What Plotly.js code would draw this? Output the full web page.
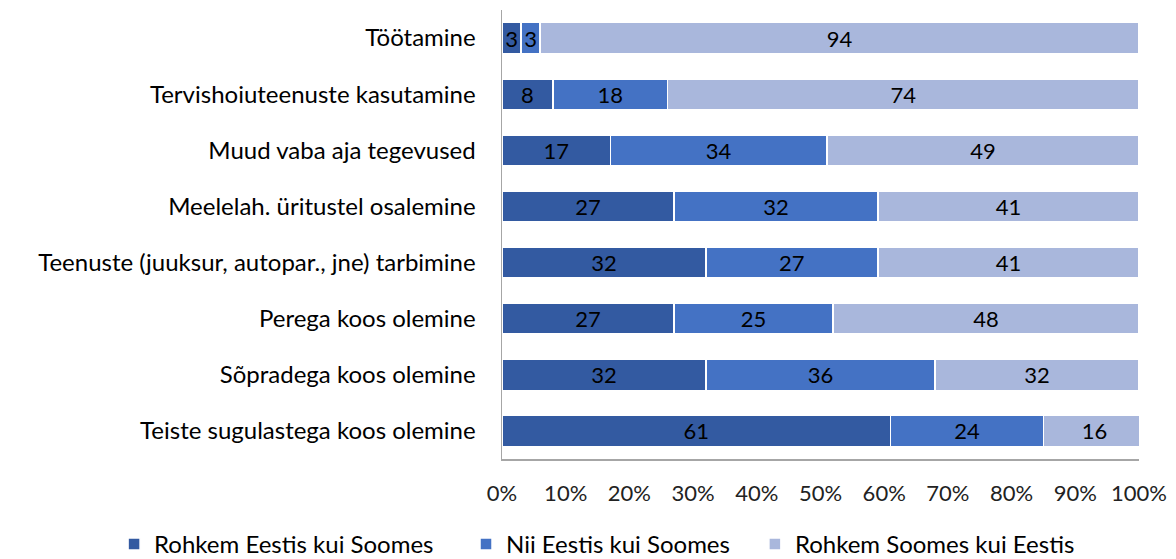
<!DOCTYPE html>
<html>
<head>
<meta charset="utf-8">
<script src="https://cdn.plot.ly/plotly-3.0.1.min.js"></script>
<style>html,body{margin:0;padding:0;background:#fff;}#chart{width:1176px;height:559px;}</style>
</head>
<body>
<div id="chart"></div>
<script>
const categories = [
  "Töötamine",
  "Tervishoiuteenuste kasutamine",
  "Muud vaba aja tegevused",
  "Meelelah. üritustel osalemine",
  "Teenuste (juuksur, autopar., jne) tarbimine",
  "Perega koos olemine",
  "Sõpradega koos olemine",
  "Teiste sugulastega koos olemine"
];
const seriesNames = ["Rohkem Eestis kui Soomes", "Nii Eestis kui Soomes", "Rohkem Soomes kui Eestis"];
const moreEstonia = [3, 8, 17, 27, 32, 27, 32, 61];
const both = [3, 18, 34, 32, 27, 25, 36, 24];
const moreFinland = [94, 74, 49, 41, 41, 48, 32, 16];
const xTicks = [0, 10, 20, 30, 40, 50, 60, 70, 80, 90, 100];
const colors = ["#335AA1", "#4472C4", "#A9B7DC"];

const font = "Lato, 'Open Sans', sans-serif";
const legendIds = ["legend", "legend2", "legend3"];
const data = [moreEstonia, both, moreFinland].map((vals, i) => ({
  type: "bar",
  orientation: "h",
  name: seriesNames[i],
  legend: legendIds[i],
  y: categories,
  x: vals,
  text: vals.map(String),
  textposition: "inside",
  insidetextanchor: "middle",
  constraintext: "none",
  textangle: 0,
  textfont: {family: font, size: 22, color: "#000"},
  marker: {color: colors[i], line: {color: "#fff", width: 1.5}},
  hoverinfo: "none"
}));

function legendAt(x) {
  return {
    orientation: "h",
    xref: "paper",
    x: x,
    xanchor: "left",
    y: -0.19,
    yanchor: "middle",
    font: {family: font, size: 24, color: "#000"}
  };
}

const layout = {
  width: 1176, height: 559,
  margin: {l: 502, r: 37, t: 10, b: 100, autoexpand: false},
  barmode: "stack",
  bargap: 0.45,
  paper_bgcolor: "#fff",
  plot_bgcolor: "#fff",
  font: {family: font, size: 23, color: "#000"},
  xaxis: {
    range: [0, 100],
    tickvals: xTicks,
    ticktext: xTicks.map(v => v + "%"),
    showgrid: false,
    zeroline: false,
    showline: true,
    linecolor: "#A6A6A6",
    linewidth: 1.5,
    ticks: "",
    automargin: false,
    ticklabelstandoff: 14,
    tickfont: {family: font, size: 22, color: "#222"},
    fixedrange: true
  },
  yaxis: {
    autorange: "reversed",
    showgrid: false,
    zeroline: false,
    showline: true,
    linecolor: "#A6A6A6",
    linewidth: 1.5,
    ticks: "",
    automargin: false,
    ticklabelstandoff: 20,
    tickfont: {family: font, size: 24, color: "#000"},
    fixedrange: true
  },
  legend: legendAt(-0.609),
  legend2: legendAt(-0.0565),
  legend3: legendAt(0.397),
  showlegend: true
};

Plotly.newPlot("chart", data, layout, {staticPlot: true, displayModeBar: false});
</script>
</body>
</html>
